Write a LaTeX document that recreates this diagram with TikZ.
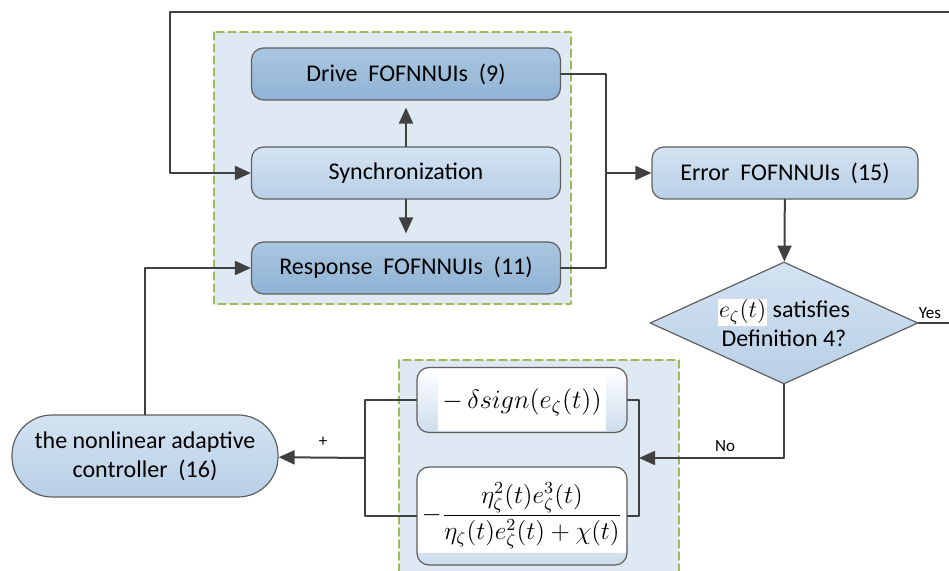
\documentclass[tikz,border=0pt]{standalone}
\usepackage{fontspec}
\setmainfont{Carlito}
\usetikzlibrary{shapes.geometric,arrows.meta}
\definecolor{grpfill}{HTML}{DFE9F3}
\definecolor{grpline}{HTML}{9BBB59}
\definecolor{boxline}{HTML}{5F5F5F}
\definecolor{wirecol}{HTML}{404040}
\definecolor{darktop}{HTML}{AAC7E1}
\definecolor{darkbot}{HTML}{90B2D4}
\definecolor{lighttop}{HTML}{D3E3F2}
\definecolor{lightbot}{HTML}{B8CFE6}
\begin{document}
\begin{tikzpicture}[x=0.5pt, y=-0.5pt, font=\fontsize{12}{14.5}\selectfont, line cap=round, line join=round, >={Triangle[length=8pt,width=7pt]},
  grp/.style={draw=grpline, fill=grpfill, line width=0.6pt, dash pattern=on 4pt off 2pt},
  darkbox/.style={draw=boxline, line width=0.6pt, rounded corners=6pt, top color=darktop, bottom color=darkbot, minimum width=154.5pt, minimum height=26pt},
  lightbox/.style={draw=boxline, line width=0.6pt, rounded corners=6pt, top color=lighttop, bottom color=lightbot, minimum width=154.5pt, minimum height=26pt},
  mathbox/.style={draw=boxline, line width=0.6pt, rounded corners=6pt, top color=white, bottom color=lightbot!70, minimum width=105pt, inner sep=0pt},
  wire/.style={draw=wirecol, line width=1pt},
  lbl/.style={font=\fontsize{8.5}{10}\selectfont}]
\clip (0,0) rectangle (949,571);
\draw[grp] (214,32) rectangle (571,304);
\draw[grp] (399,360) rectangle (679,590);
\node[darkbox] (drive) at (406,74) {Drive~ FOFNNUIs~ (9)};
\node[lightbox] (sync) at (406,173) {Synchronization};
\node[darkbox] (resp) at (406,268) {Response~ FOFNNUIs~ (11)};
\node[lightbox, minimum width=133pt] (err) at (785,173) {Error~ FOFNNUIs~ (15)};
\node[diamond, draw=boxline, line width=0.6pt, top color=lighttop, bottom color=lightbot, aspect=2.2, inner sep=0pt, minimum width=134pt, minimum height=61pt, align=center] (dec) at (784,323) {{\setlength\fboxsep{0.5pt}\colorbox{white}{$e_\zeta(t)$}} satisfies\\Definition 4?};
\node[lightbox, minimum width=133pt, minimum height=41pt, rounded corners=20pt, align=center] (ctrl) at (145,456) {the nonlinear adaptive\\controller~ (16)};
\node[mathbox, minimum height=32.5pt] (sgn) at (522,400) {\setlength\fboxsep{2pt}\colorbox{white}{\rule[-9pt]{0pt}{27pt}\scalebox{1.1}{$-\,\delta sign(e_\zeta(t))$}}};
\node[mathbox, minimum height=49pt] (frac) at (522,516) {\setlength\fboxsep{2pt}\colorbox{white}{\scalebox{1.06}{$\displaystyle -\frac{\eta_\zeta^2(t)e_\zeta^3(t)}{\eta_\zeta(t)e_\zeta^2(t)+\chi(t)}$}}};
\coordinate (j1) at (606,173);
\coordinate (j2) at (639,458);
\coordinate (j3) at (365,458);
\coordinate (top1) at (170,12);
\coordinate (top2) at (949,12);
\coordinate (yesend) at (949,323);
\draw[wire,->,shorten >=3.5pt] (sync) -- (drive);
\draw[wire,->,shorten >=4pt] (sync) -- (resp);
\draw[wire] (drive.east) -| (j1) |- (resp.east);
\draw[wire,->] (j1) -- (err);
\draw[wire,->] (err) -- (dec);
\draw[wire] (dec.east) -- (yesend);
\draw[wire,->] (top2) -- (top1) |- (sync.west);
\draw[wire,->] (dec.south) |- (j2);
\draw[wire] (sgn.east) -| (j2) |- (frac.east);
\draw[wire] (sgn.west) -| (j3) |- (frac.west);
\draw[wire,->] (j3) -- (ctrl);
\draw[wire,->] (ctrl.north) |- (resp.west);
\path (930,313) node[lbl] (yes) {Yes} (725,446) node[lbl] (no) {No} (323,442) node[lbl] (plus) {+};
\end{tikzpicture}
\end{document}
